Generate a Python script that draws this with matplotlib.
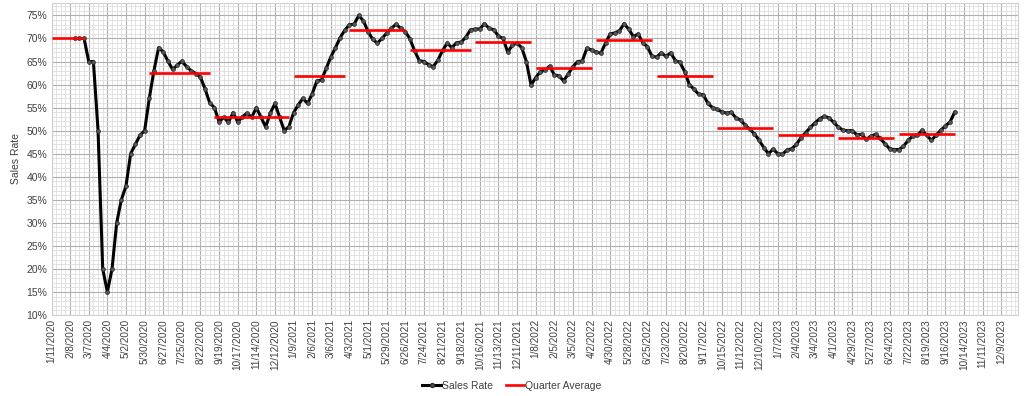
import numpy as np
import pandas as pd
import matplotlib
matplotlib.use('Agg')
import matplotlib.pyplot as plt
from matplotlib.ticker import MultipleLocator, FixedLocator, FuncFormatter
from matplotlib.lines import Line2D

plt.rcParams['font.family'] = ['Liberation Sans', 'DejaVu Sans']

# ---------------------------------------------------------------------------
# DATA
# ---------------------------------------------------------------------------
# weekly category axis (Saturdays)
AXIS_START = '2020-01-11'
AXIS_WEEKS = 208
LABEL_EVERY = 4

# weekly sales rate (%), first value on SALES_START
SALES_START = '2020-02-15'
SALES_RATE = [
    70.0, 70.0, 70.0, 65.0, 65.0, 50.0, 20.0, 15.0, 20.0, 30.0,      # w5-14
    35.0, 38.0, 45.0, 47.0, 49.0, 50.0, 57.0, 63.0, 68.0, 67.1,      # w15-24
    65.1, 63.3, 64.2, 65.1, 63.9, 63.0, 62.4, 61.6, 59.0, 56.0,      # w25-34
    55.0, 51.9, 52.9, 51.8, 53.9, 51.9, 53.0, 53.8, 52.9, 55.0,      # w35-44
    52.9, 50.8, 53.8, 55.9, 52.9, 50.0, 50.9, 53.9, 55.6, 57.0,      # w45-54
    55.9, 58.0, 60.8, 61.0, 63.5, 66.0, 68.0, 70.2, 71.8, 73.0,      # w55-64
    73.1, 75.0, 73.8, 71.5, 69.8, 69.0, 70.0, 71.2, 72.2, 73.1,      # w65-74
    72.2, 71.5, 69.9, 67.3, 65.2, 65.0, 64.3, 63.9, 65.3, 67.4,      # w75-84
    69.0, 68.0, 69.1, 69.2, 70.3, 71.9, 72.0, 72.1, 73.2, 72.2,      # w85-94
    71.9, 70.5, 70.0, 67.0, 68.6, 69.0, 68.0, 65.0, 59.9, 61.5,      # w95-104
    62.8, 63.1, 64.0, 62.1, 61.9, 60.8, 62.3, 63.9, 65.0, 65.1,      # w105-114
    67.9, 67.5, 67.1, 66.8, 69.0, 71.0, 71.2, 71.7, 73.2, 72.0,      # w115-124
    70.4, 71.0, 69.1, 68.2, 66.1, 66.0, 66.9, 66.1, 66.9, 65.2,      # w125-134
    64.8, 62.8, 60.0, 59.0, 57.9, 57.8, 55.9, 55.0, 54.6, 54.1,      # w135-144
    53.8, 54.0, 52.8, 52.3, 51.2, 50.3, 49.3, 47.9, 46.3, 45.0,      # w145-154
    46.0, 45.0, 44.9, 45.8, 46.1, 47.0, 48.5, 49.6, 50.7, 51.7,      # w155-164
    52.6, 53.1, 52.8, 51.8, 50.8, 50.1, 50.0, 50.0, 49.1, 49.2,      # w165-174
    48.1, 48.8, 49.2, 48.3, 47.2, 46.1, 45.9, 45.9, 46.6, 47.9,      # w175-184
    48.8, 49.0, 50.1, 49.0, 47.9, 49.0, 50.1, 51.0, 51.9, 54.0,      # w185-194
]

# quarter averages (%), each drawn over its first..last week
QUARTER_FIRST = ['2020-01-11', '2020-06-06', '2020-09-12', '2021-01-09',
                 '2021-04-03', '2021-07-03', '2021-10-09', '2022-01-08',
                 '2022-04-09', '2022-07-09', '2022-10-08', '2023-01-07',
                 '2023-04-08', '2023-07-08']
QUARTER_LAST = ['2020-02-29', '2020-09-05', '2021-01-02', '2021-03-27',
                '2021-06-26', '2021-10-02', '2022-01-01', '2022-04-02',
                '2022-07-02', '2022-10-01', '2022-12-31', '2023-04-01',
                '2023-07-01', '2023-09-30']
QUARTER_AVG = [70.0, 62.5, 52.9, 61.8, 71.9, 67.5, 69.2, 63.7,
               69.6, 61.8, 50.6, 49.0, 48.5, 49.3]

Y_MIN, Y_MAX = 10, 77.7

# ---------------------------------------------------------------------------
# PLOT
# ---------------------------------------------------------------------------
t0 = pd.Timestamp(AXIS_START)


def week_of(date):
    return (pd.Timestamp(date) - t0).days / 7.0


axis_dates = pd.date_range(AXIS_START, periods=AXIS_WEEKS, freq='7D')
tick_pos = np.arange(0, AXIS_WEEKS, LABEL_EVERY)
tick_lab = [f'{d.month}/{d.day}/{d.year}' for d in axis_dates[tick_pos]]

sales_x = week_of(SALES_START) + np.arange(len(SALES_RATE))

fig = plt.figure(figsize=(10.24, 3.96), dpi=100)
ax = fig.add_axes([51.5 / 1024, 1 - 315 / 396, (1018 - 51.5) / 1024, 312 / 396])

ax.plot(sales_x, SALES_RATE, color='black', lw=2.2, marker='o', ms=2.8,
        mfc='#555555', mec='#2a2a2a', mew=0.5, zorder=3)

for first, last, avg in zip(QUARTER_FIRST, QUARTER_LAST, QUARTER_AVG):
    ax.plot([week_of(first), week_of(last)], [avg, avg], color='#ff0000',
            lw=1.9, solid_capstyle='butt', zorder=4)

ax.set_xlim(0, 207.6)
ax.set_ylim(Y_MIN, Y_MAX)

ax.xaxis.set_major_locator(FixedLocator(tick_pos))
ax.set_xticklabels(tick_lab, rotation=90, fontsize=7.2, color='#404040')
ax.xaxis.set_minor_locator(MultipleLocator(1))
ax.yaxis.set_major_locator(FixedLocator(np.arange(10, 76, 5)))
ax.yaxis.set_minor_locator(MultipleLocator(1))
ax.yaxis.set_major_formatter(FuncFormatter(lambda v, p: f'{v:.0f}%'))
ax.tick_params(axis='y', labelsize=7.5, labelcolor='#404040')
ax.tick_params(which='both', length=0, pad=3)

ax.grid(which='major', color='#b0b0b0', lw=0.8)
ax.grid(which='minor', color='#dedede', lw=0.6)
ax.set_axisbelow(True)
for s in ax.spines.values():
    s.set_color('#d0d0d0')
    s.set_linewidth(0.8)

ax.set_ylabel('Sales Rate', fontsize=7.5, color='#404040', labelpad=4)

handles = [
    Line2D([0], [0], color='black', lw=2.2, marker='o', ms=2.8,
           mfc='#555555', mec='#2a2a2a', label='Sales Rate'),
    Line2D([0], [0], color='#ff0000', lw=1.9, label='Quarter Average'),
]
fig.legend(handles=handles, loc='center', bbox_to_anchor=(0.5, 0.026),
           ncol=2, frameon=False, fontsize=7.5, handlelength=1.8,
           handletextpad=0.1, columnspacing=1.2, labelcolor='#404040')

fig.savefig('out.png', dpi=100, facecolor='white')
